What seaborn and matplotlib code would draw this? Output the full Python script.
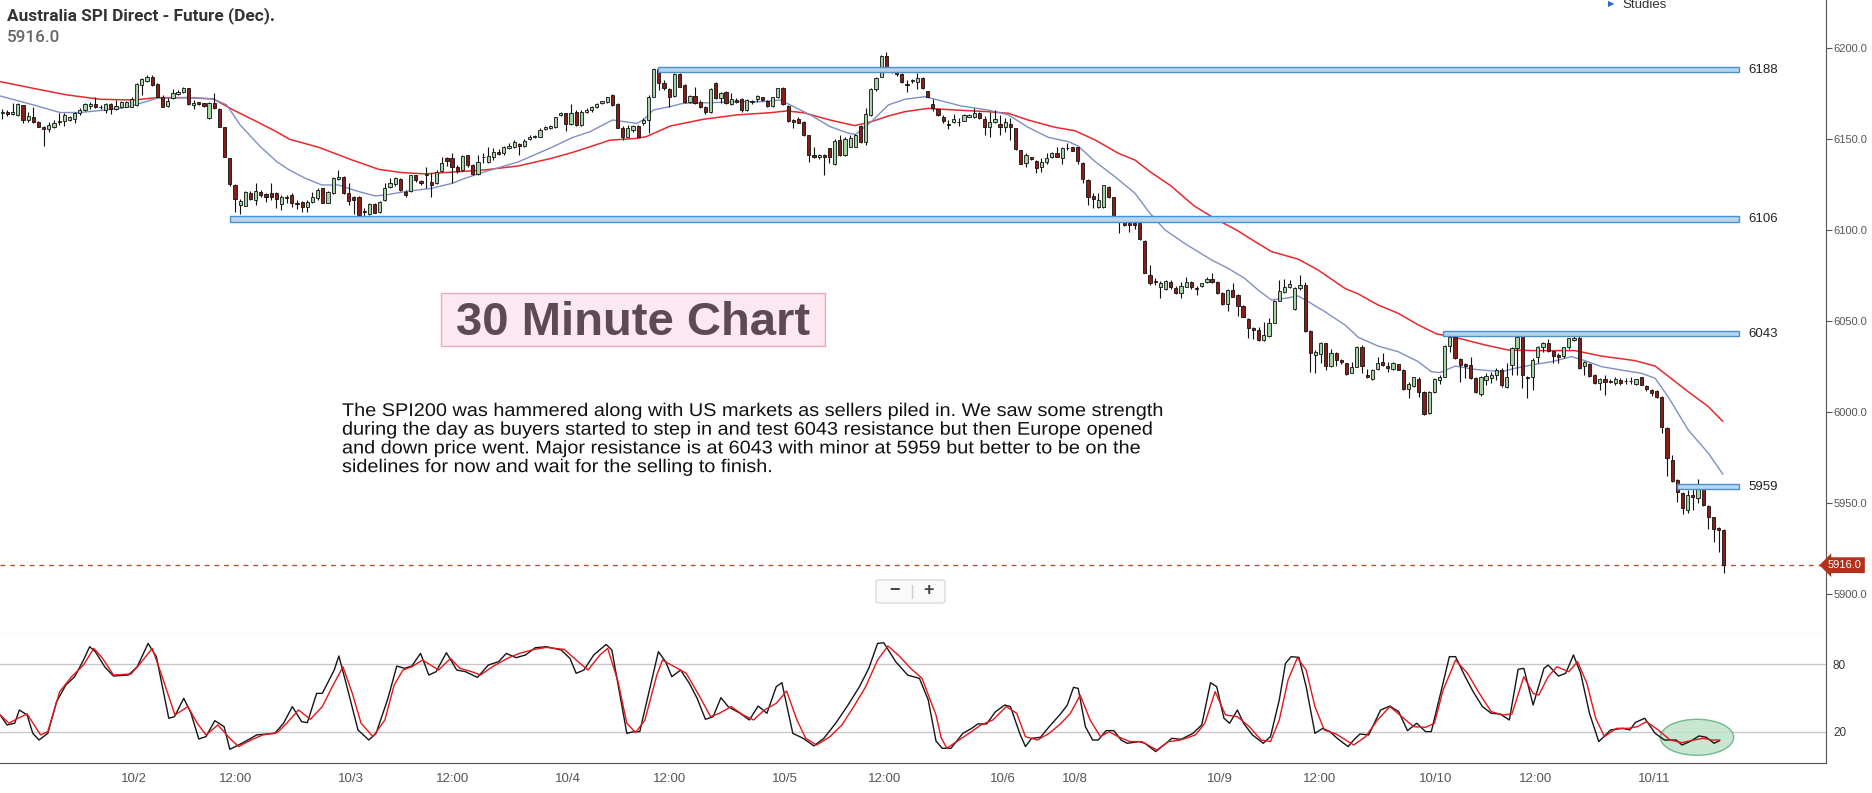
import numpy as np
import pandas as pd
import matplotlib
matplotlib.use('Agg')
import matplotlib.pyplot as plt
import matplotlib.patches as mpatches
import matplotlib.transforms as mtransforms
from matplotlib import font_manager
from matplotlib.textpath import TextPath
import seaborn as sns

# ---------------- data (30 min candles, index = candle slot) ----------------
opens = [
    6164.3, 6165.0, 6164.0, 6163.4, 6168.9, 6160.6, 6162.5, 6159.7, 6157.0, 6155.5,
    6157.0, 6159.4, 6160.1, 6160.6, 6161.0, 6164.7, 6166.1, 6168.5, 6169.3, 6167.8,
    6166.1, 6169.3, 6166.5, 6168.0, 6168.0, 6168.0, 6168.9, 6179.9, 6182.2, 6184.4,
    6180.4, 6173.5, 6168.3, 6172.5, 6174.7, 6176.2, 6178.0, 6168.9, 6170.3, 6169.8,
    6161.5, 6170.2, 6166.5, 6156.6, 6139.6, 6124.9, 6113.9, 6113.6, 6120.7, 6116.7,
    6121.3, 6119.8, 6120.7, 6120.7, 6114.5, 6118.5, 6119.4, 6114.8, 6115.4, 6113.0,
    6115.4, 6117.6, 6123.1, 6115.2, 6120.3, 6128.0, 6129.5, 6120.3, 6118.5, 6118.5,
    6110.5, 6109.0, 6114.5, 6109.9, 6116.7, 6123.6, 6125.3, 6128.2, 6121.3, 6121.6,
    6130.4, 6127.1, 6130.6, 6126.7, 6125.8, 6132.8, 6139.9, 6139.6, 6135.0, 6133.2,
    6141.2, 6135.9, 6130.8, 6140.3, 6137.7, 6140.5, 6143.2, 6142.3, 6145.1, 6145.6,
    6147.4, 6146.3, 6150.0, 6151.3, 6151.5, 6155.5, 6156.1, 6156.6, 6163.4, 6164.3,
    6158.4, 6165.2, 6157.9, 6165.2, 6166.1, 6168.0, 6169.8, 6170.7, 6174.4, 6169.4,
    6156.4, 6151.5, 6155.1, 6157.3, 6158.8, 6160.6, 6173.4, 6188.4, 6181.1, 6177.5,
    6173.8, 6185.9, 6179.8, 6170.7, 6173.8, 6170.7, 6168.0, 6165.2, 6181.1, 6172.5,
    6176.2, 6169.4, 6171.6, 6172.0, 6166.1, 6170.5, 6172.0, 6173.0, 6171.0, 6168.3,
    6173.1, 6178.0, 6168.3, 6160.6, 6161.0, 6159.7, 6152.4, 6141.4, 6140.1, 6141.4,
    6145.0, 6136.4, 6149.6, 6141.4, 6145.9, 6146.0, 6157.3, 6148.7, 6163.4, 6177.5,
    6184.4, 6195.8, 6189.3, 6187.7, 6185.7, 6180.0, 6181.9, 6181.7, 6183.5, 6176.5,
    6169.4, 6166.5, 6162.1, 6158.0, 6159.5, 6159.4, 6160.2, 6162.5, 6162.1, 6164.6,
    6161.0, 6156.6, 6159.7, 6158.4, 6156.6, 6158.4, 6156.0, 6144.1, 6137.2, 6140.1,
    6138.3, 6135.0, 6137.7, 6140.5, 6142.3, 6139.6, 6145.0, 6145.6, 6145.6, 6137.2,
    6127.6, 6118.9, 6113.0, 6113.0, 6124.0, 6118.1, 6105.8, 6105.7, 6104.2, 6104.2,
    6104.2, 6094.3, 6075.4, 6071.9, 6068.7, 6067.6, 6071.8, 6068.1, 6065.4, 6069.0,
    6071.8, 6068.5, 6069.4, 6071.4, 6073.0, 6071.8, 6065.7, 6059.5, 6067.2, 6064.4,
    6058.4, 6051.1, 6046.5, 6045.2, 6039.7, 6041.9, 6049.2, 6061.3, 6066.3, 6068.7,
    6056.6, 6068.1, 6069.9, 6044.8, 6031.5, 6032.0, 6037.9, 6025.4, 6032.8, 6028.7,
    6026.9, 6021.8, 6025.1, 6036.1, 6020.3, 6018.3, 6023.6, 6027.8, 6025.4, 6023.6,
    6026.4, 6023.2, 6012.6, 6014.4, 6018.1, 6011.3, 5999.4, 6011.3, 6018.0, 6019.6,
    6036.4, 6041.6, 6029.1, 6026.5, 6026.0, 6018.7, 6010.1, 6018.0, 6018.7, 6020.5,
    6023.2, 6013.7, 6026.0, 6035.1, 6041.9, 6019.6, 6019.2, 6030.2, 6036.1, 6038.3,
    6033.7, 6031.5, 6030.9, 6036.1, 6039.9, 6041.0, 6025.4, 6026.5, 6020.5, 6016.0,
    6018.1, 6017.4, 6016.2, 6017.8, 6017.0, 6017.2, 6015.6, 6019.2, 6014.4, 6012.3,
    6011.9, 6008.6, 5991.2, 5973.8, 5962.8, 5955.8, 5946.3, 5954.6, 5952.7, 5958.2,
    5948.5, 5942.3, 5936.3, 5935.4,
]
highs = [
    6166.5, 6166.0, 6170.0, 6170.0, 6169.0, 6165.2, 6168.0, 6160.1, 6157.2, 6159.7,
    6160.6, 6164.3, 6164.3, 6163.0, 6165.2, 6167.0, 6169.8, 6170.7, 6173.2, 6168.9,
    6169.8, 6169.8, 6171.6, 6171.0, 6171.0, 6173.5, 6180.8, 6183.5, 6185.4, 6185.4,
    6180.8, 6174.4, 6172.5, 6177.5, 6177.1, 6178.6, 6178.2, 6171.6, 6170.5, 6170.0,
    6170.7, 6175.3, 6167.0, 6157.0, 6139.9, 6125.5, 6117.0, 6121.8, 6121.6, 6126.0,
    6122.0, 6120.3, 6125.9, 6121.3, 6119.4, 6119.4, 6120.3, 6116.7, 6116.3, 6116.7,
    6121.3, 6123.1, 6123.3, 6121.6, 6129.5, 6133.0, 6129.7, 6125.8, 6118.7, 6118.7,
    6112.1, 6114.8, 6115.0, 6116.0, 6126.2, 6128.6, 6129.5, 6128.6, 6122.2, 6130.6,
    6130.6, 6127.5, 6135.0, 6131.3, 6133.2, 6140.5, 6140.5, 6142.3, 6135.9, 6141.4,
    6141.4, 6136.5, 6141.4, 6142.7, 6145.6, 6145.1, 6144.5, 6146.3, 6147.8, 6149.6,
    6147.8, 6150.0, 6152.2, 6152.2, 6156.1, 6157.5, 6158.0, 6162.5, 6165.2, 6164.5,
    6169.3, 6166.1, 6166.0, 6167.0, 6168.3, 6169.8, 6171.2, 6173.4, 6174.7, 6169.8,
    6157.3, 6157.9, 6157.9, 6157.9, 6161.5, 6174.4, 6189.0, 6189.0, 6182.6, 6178.0,
    6186.6, 6186.6, 6180.2, 6174.4, 6178.9, 6171.6, 6168.5, 6178.0, 6181.7, 6176.2,
    6176.4, 6175.6, 6172.5, 6172.5, 6172.0, 6171.6, 6174.4, 6173.5, 6171.6, 6173.4,
    6178.4, 6178.9, 6168.9, 6161.0, 6162.0, 6160.1, 6152.6, 6146.0, 6142.0, 6141.7,
    6145.4, 6150.0, 6152.2, 6151.5, 6152.4, 6153.0, 6158.0, 6167.0, 6178.0, 6184.0,
    6196.3, 6198.2, 6189.5, 6188.0, 6186.2, 6182.8, 6183.0, 6186.6, 6184.0, 6176.8,
    6172.0, 6166.8, 6163.4, 6160.6, 6163.9, 6161.5, 6164.0, 6163.9, 6167.0, 6165.0,
    6162.8, 6165.2, 6166.1, 6163.4, 6161.5, 6161.5, 6156.2, 6144.3, 6142.7, 6140.5,
    6138.7, 6139.6, 6142.3, 6142.8, 6145.9, 6145.9, 6147.8, 6146.0, 6145.9, 6137.7,
    6128.0, 6120.3, 6120.3, 6125.1, 6124.4, 6118.5, 6106.6, 6106.0, 6104.8, 6104.8,
    6104.8, 6094.7, 6080.9, 6073.6, 6072.3, 6072.7, 6072.7, 6069.4, 6071.8, 6074.5,
    6072.3, 6069.4, 6071.2, 6074.5, 6076.4, 6072.0, 6066.3, 6067.6, 6071.3, 6065.0,
    6059.0, 6051.6, 6047.0, 6047.0, 6049.8, 6051.6, 6061.7, 6072.7, 6073.0, 6072.7,
    6069.0, 6075.4, 6071.8, 6045.2, 6034.0, 6038.8, 6038.3, 6034.6, 6033.3, 6029.5,
    6027.2, 6027.8, 6036.4, 6037.0, 6023.6, 6023.6, 6030.6, 6032.4, 6027.8, 6027.8,
    6026.8, 6023.6, 6016.8, 6019.6, 6019.6, 6011.6, 6011.9, 6018.7, 6020.5, 6037.0,
    6041.6, 6044.3, 6029.7, 6027.3, 6030.2, 6019.2, 6019.9, 6021.8, 6022.3, 6024.2,
    6024.2, 6026.9, 6036.1, 6041.9, 6042.5, 6020.0, 6029.7, 6036.4, 6038.8, 6040.1,
    6033.9, 6032.4, 6036.1, 6041.0, 6042.5, 6043.0, 6028.4, 6026.9, 6021.0, 6018.7,
    6020.5, 6018.5, 6019.2, 6018.7, 6018.7, 6019.2, 6018.5, 6019.6, 6015.0, 6012.6,
    6012.3, 6009.0, 5991.7, 5976.5, 5963.2, 5956.4, 5957.3, 5957.7, 5963.2, 5958.6,
    5949.1, 5942.7, 5936.9, 5935.7,
]
lows = [
    6161.4, 6163.0, 6163.4, 6163.0, 6158.8, 6159.7, 6158.8, 6156.8, 6146.3, 6154.2,
    6156.0, 6158.0, 6157.3, 6160.0, 6159.2, 6163.4, 6165.8, 6166.5, 6167.0, 6166.5,
    6164.3, 6164.0, 6166.1, 6167.0, 6167.5, 6168.0, 6168.3, 6174.4, 6181.7, 6179.3,
    6173.0, 6167.8, 6168.0, 6172.0, 6174.4, 6175.3, 6169.0, 6166.5, 6169.0, 6168.0,
    6161.0, 6166.5, 6156.8, 6140.1, 6124.4, 6110.3, 6109.0, 6113.4, 6116.7, 6114.0,
    6118.5, 6115.8, 6116.7, 6112.1, 6111.2, 6115.0, 6113.0, 6111.5, 6110.3, 6110.3,
    6114.8, 6116.7, 6114.8, 6114.8, 6120.0, 6127.7, 6120.0, 6114.0, 6109.0, 6107.9,
    6106.6, 6108.4, 6109.5, 6109.7, 6116.3, 6123.5, 6124.4, 6121.8, 6118.5, 6121.3,
    6126.7, 6125.0, 6123.1, 6118.5, 6125.5, 6132.2, 6135.4, 6126.2, 6131.3, 6132.6,
    6135.0, 6130.4, 6130.4, 6136.8, 6137.2, 6138.7, 6141.4, 6141.4, 6144.5, 6145.1,
    6141.4, 6146.0, 6149.6, 6150.9, 6151.3, 6155.0, 6155.8, 6156.1, 6162.8, 6154.8,
    6157.9, 6157.3, 6157.5, 6164.3, 6165.2, 6167.0, 6169.4, 6170.1, 6168.3, 6156.2,
    6149.6, 6151.1, 6154.2, 6151.1, 6157.9, 6153.6, 6173.1, 6177.1, 6177.1, 6168.0,
    6173.4, 6178.6, 6170.1, 6170.1, 6169.2, 6167.0, 6163.9, 6164.6, 6172.0, 6169.8,
    6169.4, 6168.9, 6170.0, 6165.2, 6165.5, 6169.5, 6170.7, 6171.0, 6167.9, 6168.0,
    6172.5, 6168.9, 6159.7, 6156.0, 6158.8, 6151.8, 6137.7, 6139.6, 6139.0, 6130.4,
    6137.2, 6135.9, 6140.8, 6140.8, 6145.6, 6145.5, 6147.8, 6146.9, 6163.0, 6176.5,
    6184.0, 6188.4, 6186.5, 6185.0, 6180.7, 6176.2, 6181.0, 6177.5, 6177.5, 6173.2,
    6165.7, 6163.0, 6158.8, 6155.5, 6158.8, 6157.3, 6160.0, 6162.0, 6161.5, 6161.0,
    6152.4, 6151.5, 6158.8, 6152.4, 6154.2, 6149.6, 6144.3, 6136.2, 6135.0, 6138.5,
    6131.3, 6132.2, 6136.4, 6140.0, 6140.1, 6136.4, 6144.1, 6143.3, 6136.4, 6125.8,
    6113.9, 6112.1, 6112.1, 6112.1, 6117.7, 6106.4, 6098.7, 6102.3, 6099.2, 6100.5,
    6094.7, 6076.4, 6069.9, 6069.9, 6062.6, 6067.0, 6067.6, 6065.0, 6062.6, 6068.7,
    6067.6, 6064.4, 6069.0, 6071.2, 6071.0, 6065.0, 6059.0, 6055.8, 6063.2, 6052.9,
    6052.2, 6040.6, 6040.1, 6039.4, 6039.4, 6041.6, 6048.9, 6061.1, 6065.4, 6068.1,
    6056.2, 6067.2, 6044.3, 6022.3, 6021.8, 6026.9, 6023.2, 6025.0, 6025.4, 6026.5,
    6020.5, 6021.6, 6024.8, 6021.4, 6018.7, 6018.0, 6023.2, 6025.4, 6022.3, 6023.2,
    6023.0, 6012.2, 6007.7, 6014.1, 6008.6, 5998.5, 5999.1, 6010.8, 6015.6, 6019.2,
    6033.3, 6029.1, 6016.8, 6018.7, 6018.1, 6010.4, 6009.0, 6015.0, 6016.3, 6017.8,
    6013.7, 6013.2, 6020.5, 6020.5, 6013.2, 6007.7, 6012.3, 6027.3, 6033.3, 6033.3,
    6027.3, 6027.3, 6029.7, 6035.0, 6039.4, 6023.6, 6020.5, 6019.2, 6015.6, 6012.3,
    6009.5, 6016.0, 6015.0, 6015.0, 6015.6, 6015.6, 6015.2, 6014.8, 6011.9, 6009.0,
    6007.7, 5988.4, 5965.0, 5961.9, 5950.9, 5944.1, 5944.5, 5946.3, 5950.0, 5948.5,
    5935.7, 5928.9, 5923.4, 5911.5,
]
closes = [
    6165.2, 6164.0, 6165.0, 6169.3, 6160.6, 6162.8, 6159.7, 6157.0, 6155.5, 6157.9,
    6159.2, 6160.1, 6163.4, 6162.1, 6164.7, 6166.1, 6169.3, 6169.5, 6167.6, 6167.6,
    6169.3, 6166.5, 6168.3, 6170.5, 6170.5, 6172.0, 6180.2, 6183.0, 6184.4, 6179.9,
    6173.5, 6168.0, 6171.3, 6175.3, 6176.2, 6178.0, 6169.3, 6169.8, 6169.3, 6168.3,
    6169.8, 6167.0, 6157.0, 6140.5, 6125.5, 6117.0, 6116.3, 6120.9, 6117.0, 6121.6,
    6119.4, 6118.5, 6118.1, 6117.0, 6118.1, 6117.5, 6115.2, 6114.5, 6113.0, 6115.8,
    6118.5, 6122.2, 6115.2, 6121.3, 6128.6, 6129.5, 6120.3, 6116.3, 6116.7, 6108.4,
    6110.3, 6114.5, 6109.7, 6115.8, 6123.1, 6126.2, 6128.6, 6122.2, 6119.4, 6130.4,
    6127.7, 6125.8, 6130.8, 6124.9, 6132.2, 6137.2, 6138.1, 6135.0, 6132.6, 6140.9,
    6135.9, 6131.0, 6137.7, 6140.1, 6140.9, 6143.2, 6142.0, 6146.0, 6146.3, 6148.7,
    6146.3, 6149.3, 6151.1, 6151.7, 6155.1, 6157.0, 6157.5, 6162.1, 6164.3, 6158.4,
    6164.7, 6157.9, 6165.2, 6166.1, 6168.0, 6169.2, 6171.0, 6173.1, 6168.9, 6156.4,
    6151.5, 6156.0, 6157.3, 6151.5, 6160.6, 6173.4, 6188.4, 6180.7, 6178.0, 6173.4,
    6185.9, 6178.9, 6170.7, 6173.8, 6169.8, 6168.0, 6165.2, 6177.5, 6172.5, 6175.6,
    6169.8, 6172.0, 6170.7, 6166.1, 6171.6, 6171.0, 6173.8, 6171.5, 6168.3, 6173.1,
    6178.0, 6169.4, 6160.2, 6159.5, 6159.2, 6152.4, 6141.4, 6140.1, 6141.4, 6140.1,
    6140.1, 6149.3, 6141.4, 6150.2, 6150.9, 6152.5, 6148.7, 6163.9, 6177.5, 6183.5,
    6195.8, 6189.0, 6187.7, 6185.7, 6181.7, 6179.8, 6182.6, 6183.5, 6178.0, 6173.4,
    6167.0, 6163.4, 6160.2, 6157.8, 6161.0, 6159.3, 6163.4, 6163.4, 6164.6, 6161.5,
    6156.6, 6159.7, 6161.0, 6156.6, 6159.7, 6157.0, 6144.5, 6136.4, 6141.4, 6139.0,
    6134.4, 6137.7, 6139.6, 6142.3, 6140.5, 6145.4, 6145.2, 6143.7, 6138.3, 6128.0,
    6118.5, 6117.0, 6116.7, 6124.9, 6118.1, 6106.6, 6104.9, 6102.7, 6103.0, 6102.7,
    6095.0, 6076.7, 6070.9, 6071.7, 6070.9, 6072.3, 6068.7, 6065.4, 6069.4, 6071.8,
    6068.7, 6067.6, 6070.9, 6073.2, 6071.8, 6065.4, 6059.5, 6067.2, 6063.5, 6058.4,
    6052.5, 6046.5, 6045.2, 6039.7, 6042.5, 6049.2, 6061.3, 6066.8, 6069.0, 6070.5,
    6068.1, 6069.9, 6044.8, 6032.8, 6033.0, 6037.9, 6025.4, 6032.8, 6028.7, 6027.5,
    6020.9, 6025.1, 6036.1, 6025.4, 6019.2, 6023.2, 6027.3, 6026.0, 6024.5, 6027.3,
    6023.2, 6012.6, 6015.5, 6019.2, 6011.3, 5999.1, 6011.3, 6018.1, 6019.6, 6036.4,
    6041.2, 6029.7, 6026.0, 6025.4, 6018.7, 6011.3, 6019.2, 6019.9, 6020.5, 6023.2,
    6015.0, 6019.2, 6035.1, 6041.6, 6020.5, 6018.7, 6028.7, 6036.1, 6038.3, 6033.9,
    6030.9, 6030.2, 6035.7, 6040.6, 6040.8, 6024.2, 6027.6, 6019.9, 6016.3, 6018.1,
    6016.8, 6016.8, 6018.1, 6016.3, 6017.1, 6017.0, 6018.1, 6015.0, 6012.6, 6010.4,
    6008.6, 5992.1, 5974.7, 5962.4, 5956.4, 5947.2, 5954.6, 5953.3, 5958.2, 5949.1,
    5942.7, 5935.7, 5935.4, 5916.0,
]

# moving averages (read at sample points)
ma_fast_x = [-0.4, 6.0, 11.2, 15.0, 18.9, 24.1, 26.7, 29.9, 35.7, 40.8, 43.4, 46.0, 49.9, 53.1, 55.6,
             58.6, 61.8, 65.0, 68.9, 72.1, 74.1, 78.0, 83.1, 87.0, 89.5, 93.4, 99.9, 106.3, 110.3,
             113.7, 118.0, 122.7, 124.0, 125.9, 129.2, 131.7, 136.9, 142.1, 147.2, 150.4, 152.4,
             156.3, 160.1, 163.4, 165.0, 168.1, 171.4, 174.6, 178.4, 181.0, 185.5, 190.7, 194.6,
             198.4, 202.3, 206.2, 208.1, 211.4, 215.2, 219.1, 222.0, 224.9, 228.7, 233.9, 237.1,
             240.3, 242.9, 245.5, 248.1, 250.7, 252.6, 255.8, 259.7, 262.3, 266.1, 270.0, 273.9,
             276.4, 278.1, 281.0, 284.8, 290.0, 292.6, 295.8, 299.7, 303.5, 306.1, 309.3, 313.2,
             317.1, 319.7, 322.2, 326.1, 330.0, 332.8]
ma_fast = [6173.8, 6168.9, 6164.7, 6164.7, 6165.8, 6167.6, 6169.8, 6172.5, 6172.9, 6172.2, 6168.9,
           6157.9, 6146.0, 6137.7, 6133.0, 6128.6, 6124.9, 6124.9, 6121.3, 6118.9, 6119.4, 6121.3,
           6123.1, 6125.8, 6128.6, 6132.2, 6137.7, 6145.6, 6151.0, 6154.2, 6160.6, 6158.8, 6160.6,
           6166.1, 6168.0, 6169.8, 6170.1, 6170.7, 6170.7, 6171.6, 6168.9, 6163.4, 6157.0, 6153.6,
           6152.6, 6159.7, 6168.9, 6172.0, 6173.4, 6171.6, 6168.3, 6166.1, 6163.4, 6156.6, 6151.1,
           6148.7, 6146.3, 6137.7, 6129.5, 6120.3, 6109.3, 6100.2, 6092.8, 6083.7, 6079.1, 6073.6,
           6067.2, 6061.7, 6062.6, 6063.9, 6060.8, 6055.3, 6048.0, 6041.2, 6036.4, 6033.3, 6027.8,
           6022.3, 6021.8, 6025.4, 6023.6, 6022.3, 6024.2, 6026.0, 6027.8, 6030.6, 6028.4, 6025.1,
           6023.2, 6021.4, 6018.7, 6008.6, 5990.3, 5977.5, 5966.0]
ma_slow_x = [-0.4, 6.0, 12.5, 18.9, 25.4, 29.9, 35.7, 40.8, 44.7, 48.6, 52.4, 55.6, 61.2, 67.6, 72.8,
             77.3, 81.8, 88.2, 93.4, 99.9, 106.3, 110.3, 113.7, 117.5, 122.7, 124.6, 129.2, 135.6,
             142.1, 148.5, 151.7, 155.0, 160.1, 164.9, 168.1, 171.4, 174.6, 179.1, 184.3, 190.7,
             194.6, 198.4, 203.6, 207.5, 211.4, 215.9, 219.1, 222.0, 226.0, 230.5, 234.5, 238.7,
             242.3, 245.5, 250.7, 254.5, 259.7, 262.3, 266.1, 270.0, 273.9, 277.5, 281.0, 286.8,
             291.3, 296.4, 304.2, 309.3, 315.8, 319.7, 322.2, 326.1, 330.0, 332.8]
ma_slow = [6181.7, 6178.0, 6174.4, 6172.0, 6171.6, 6172.9, 6172.9, 6172.2, 6166.1, 6160.6, 6155.1,
           6150.0, 6145.6, 6138.7, 6133.5, 6131.7, 6131.0, 6132.2, 6133.2, 6135.4, 6139.6, 6142.8,
           6145.9, 6149.5, 6150.5, 6151.5, 6157.3, 6161.0, 6163.4, 6164.6, 6165.6, 6164.6, 6160.6,
           6157.5, 6159.7, 6162.8, 6165.2, 6167.0, 6166.1, 6165.2, 6164.3, 6160.6, 6156.6, 6154.7,
           6149.6, 6142.3, 6138.6, 6132.2, 6124.5, 6113.5, 6106.5, 6100.2, 6093.8, 6088.3, 6084.1,
           6078.2, 6068.1, 6065.0, 6059.0, 6054.4, 6048.0, 6043.0, 6041.2, 6037.0, 6034.2, 6033.9,
           6033.9, 6030.9, 6028.4, 6025.4, 6019.9, 6011.3, 6003.1, 5995.0]

# stochastic oscillator: %K (black) and %D (red)
stoch_k_x = [
    -0.4, 0.9, 2.4, 3.3, 4.8, 5.9, 7.1, 8.8, 10.5, 12.3,
    14.0, 15.7, 16.9, 18.0, 19.8, 21.5, 24.4, 26.1, 28.2, 29.8,
    32.2, 33.3, 35.1, 36.5, 38.0, 39.4, 41.1, 42.9, 44.0, 45.7,
    47.5, 49.2, 52.7, 54.4, 56.1, 57.9, 59.0, 60.8, 61.9, 64.2,
    65.1, 66.5, 68.8, 70.9, 72.3, 74.6, 76.3, 77.8, 79.2, 80.9,
    82.5, 83.9, 85.9, 87.9, 89.6, 91.9, 94.0, 96.0, 97.5, 99.4,
    101.2, 103.1, 105.2, 108.1, 109.8, 111.0, 112.5, 114.4, 116.8, 117.9,
    120.8, 122.2, 123.3, 125.4, 126.9, 128.3, 129.5, 131.2, 132.9, 134.4,
    136.0, 137.5, 139.0, 140.4, 142.7, 144.5, 146.2, 147.9, 149.7, 150.8,
    152.9, 154.9, 157.0, 158.9, 161.2, 163.5, 165.8, 167.6, 169.3, 170.5,
    172.8, 175.1, 177.4, 179.1, 180.6, 181.8, 183.5, 185.8, 187.5, 188.7,
    190.4, 192.1, 193.9, 195.0, 196.8, 197.9, 199.1, 200.8, 202.5, 204.8,
    206.0, 207.2, 208.1, 209.5, 210.9, 212.0, 213.5, 215.0, 216.4, 217.6,
    219.9, 221.0, 223.1, 225.1, 226.2, 228.0, 230.3, 232.0, 233.7, 234.9,
    236.3, 237.4, 238.9, 240.1, 241.8, 243.9, 245.3, 247.0, 248.2, 249.3,
    250.8, 252.2, 253.9, 255.4, 256.8, 258.2, 260.3, 261.4, 262.6, 264.3,
    266.6, 268.4, 270.1, 271.8, 273.6, 275.3, 276.4, 278.2, 279.9, 281.1,
    282.8, 284.5, 286.3, 288.0, 289.7, 291.5, 293.2, 294.3, 296.1, 298.2,
    299.0, 301.0, 302.4, 303.9, 305.3, 307.0, 308.8, 311.1, 313.4, 314.8,
    315.9, 317.7, 319.7, 321.5, 323.8, 324.9, 326.4, 328.2, 329.6, 331.1,
    332.2,
]
stoch_k = [
    35.0, 26.2, 27.7, 39.4, 35.0, 18.8, 12.9, 18.8, 46.8, 61.5,
    68.8, 83.5, 95.3, 90.9, 77.6, 69.4, 70.3, 77.6, 98.2, 86.5,
    32.1, 33.5, 49.7, 36.5, 13.8, 15.9, 30.0, 24.7, 4.7, 8.5,
    12.9, 17.4, 18.8, 27.7, 42.4, 29.1, 28.2, 54.1, 54.1, 74.7,
    87.1, 62.9, 21.8, 12.9, 18.8, 49.7, 78.2, 76.2, 78.2, 89.4,
    70.3, 73.2, 90.0, 74.7, 73.2, 68.2, 79.1, 82.1, 89.4, 85.6,
    88.0, 94.4, 95.3, 92.4, 85.0, 71.8, 74.7, 88.0, 97.3, 92.4,
    18.8, 20.3, 20.3, 61.5, 90.9, 82.1, 68.8, 74.7, 62.9, 49.7,
    31.2, 33.5, 50.3, 42.4, 36.5, 30.6, 42.9, 36.5, 60.0, 63.5,
    18.8, 14.4, 7.7, 14.4, 27.7, 43.2, 60.0, 76.2, 98.2, 98.8,
    82.1, 70.3, 67.3, 48.3, 12.0, 5.6, 5.6, 18.8, 23.2, 27.1,
    27.1, 37.9, 43.8, 42.4, 18.8, 7.1, 14.4, 15.3, 24.7, 36.5,
    43.8, 59.4, 58.5, 24.7, 12.9, 12.9, 21.2, 21.2, 12.9, 10.0,
    11.5, 10.0, 2.7, 10.0, 14.4, 13.5, 18.8, 26.2, 63.5, 60.0,
    32.1, 27.7, 39.4, 27.7, 17.4, 10.0, 15.9, 48.3, 80.6, 86.5,
    85.9, 60.0, 18.8, 23.2, 20.3, 14.4, 7.1, 12.9, 18.2, 17.4,
    39.4, 42.9, 37.9, 21.2, 27.7, 20.3, 20.3, 54.1, 86.5, 86.5,
    70.3, 55.6, 42.4, 36.5, 35.9, 30.6, 75.3, 76.2, 43.8, 76.2,
    79.1, 69.4, 71.8, 88.0, 71.8, 36.5, 11.5, 21.8, 23.2, 21.8,
    28.5, 32.1, 18.8, 12.9, 12.9, 8.5, 11.5, 16.5, 15.3, 10.0,
    12.4,
]
stoch_d_x = [
    -0.4, 1.3, 3.0, 4.8, 7.4, 8.8, 11.1, 13.4, 15.7, 17.7,
    19.4, 21.5, 24.9, 26.7, 29.0, 30.7, 33.4, 35.9, 37.7, 39.4,
    41.7, 44.0, 45.7, 48.1, 50.4, 53.2, 55.0, 57.3, 59.6, 61.9,
    64.0, 65.9, 67.7, 69.4, 71.7, 74.0, 75.8, 77.5, 79.2, 81.3,
    84.4, 86.7, 88.5, 90.8, 92.5, 94.8, 97.7, 100.0, 102.9, 105.2,
    108.7, 111.0, 113.3, 115.6, 117.1, 119.1, 120.8, 122.5, 124.3, 126.6,
    127.7, 130.0, 132.3, 134.9, 137.0, 138.7, 141.0, 143.3, 145.3, 147.4,
    149.7, 151.7, 153.7, 155.4, 157.5, 160.1, 162.4, 164.7, 167.0, 169.3,
    171.3, 173.3, 175.7, 177.9, 180.6, 181.6, 182.7, 184.6, 187.0, 189.3,
    191.6, 194.2, 196.2, 197.9, 200.2, 202.5, 204.8, 206.6, 208.5, 210.4,
    212.4, 214.1, 215.8, 218.1, 220.4, 223.3, 225.6, 227.9, 230.8, 232.6,
    234.6, 236.6, 238.9, 241.2, 243.5, 245.3, 247.0, 248.7, 250.5, 252.2,
    253.9, 255.7, 258.0, 261.4, 263.7, 266.0, 268.4, 270.7, 273.0, 275.3,
    277.0, 278.7, 281.1, 283.4, 285.7, 288.0, 290.3, 292.0, 294.3, 296.1,
    297.2, 299.0, 300.7, 303.0, 304.7, 306.5, 308.2, 309.9, 312.2, 314.5,
    316.3, 318.0, 320.3, 322.6, 324.9, 327.2, 329.0, 330.7, 332.2,
]
stoch_d = [
    35.0, 27.7, 32.1, 35.9, 17.4, 20.3, 55.6, 68.8, 79.1, 93.8,
    85.0, 70.3, 71.2, 80.6, 93.8, 71.8, 35.0, 42.4, 27.7, 17.4,
    26.2, 14.4, 7.1, 12.9, 17.4, 19.4, 27.7, 39.4, 31.2, 42.4,
    61.5, 77.6, 54.1, 27.7, 15.9, 30.6, 61.5, 74.7, 77.6, 83.5,
    74.7, 85.0, 76.2, 73.2, 70.3, 77.6, 85.0, 89.4, 92.9, 94.7,
    92.9, 83.5, 74.7, 88.0, 93.8, 64.4, 27.7, 19.4, 30.6, 70.3,
    83.5, 77.6, 71.8, 51.2, 33.5, 36.5, 42.4, 35.0, 30.6, 39.4,
    45.3, 56.2, 30.6, 14.4, 8.5, 15.9, 26.2, 42.4, 60.0, 83.5,
    95.9, 88.0, 76.2, 67.3, 35.0, 15.0, 5.6, 11.5, 18.8, 26.2,
    30.6, 42.4, 36.5, 15.9, 12.9, 18.8, 27.7, 36.5, 52.6, 30.6,
    15.9, 20.3, 15.9, 11.5, 11.5, 4.1, 11.5, 12.9, 17.4, 27.7,
    55.6, 35.0, 33.5, 24.7, 12.9, 11.5, 30.6, 65.9, 85.6, 74.7,
    42.4, 21.8, 18.2, 8.5, 15.9, 30.6, 42.4, 33.5, 24.7, 24.1,
    27.7, 57.1, 83.5, 71.8, 54.1, 37.9, 35.0, 35.9, 68.8, 54.1,
    52.6, 68.8, 77.6, 73.2, 82.1, 62.9, 32.1, 15.9, 23.2, 23.2,
    24.7, 29.1, 21.8, 12.9, 10.6, 12.9, 14.4, 12.9, 12.9,
]

levels = [6188, 6106, 6043, 5959]
level_start = [126.8, 44.0, 278.7, 323.9]
level_end = 336.0
last_price = 5916.0

tick_pos = [25.5, 45.2, 67.4, 87.0, 109.4, 129.0, 151.4, 170.7, 193.6, 207.5, 235.6, 254.7, 277.3, 296.6, 319.5]
tick_labels = ['10/2', '12:00', '10/3', '12:00', '10/4', '12:00', '10/5', '12:00',
               '10/6', '10/8', '10/9', '12:00', '10/10', '12:00', '10/11']
price_ticks = [5900, 5950, 6000, 6050, 6100, 6150, 6200]
stoch_ticks = [20, 80]

title = 'Australia SPI Direct - Future (Dec).'
chart_label = '30 Minute Chart'
note_lines = [
    'The SPI200 was hammered along with US markets as sellers piled in. We saw some strength',
    'during the day as buyers started to step in and test 6043 resistance but then Europe opened',
    'and down price went. Major resistance is at 6043 with minor at 5959 but better to be on the',
    'sidelines for now and wait for the selling to finish.',
]

# ---------------- style ----------------
sns.set_style('white')
avail = {f.name for f in font_manager.fontManager.ttflist}
sans = 'Liberation Sans' if 'Liberation Sans' in avail else 'DejaVu Sans'
rob = 'Roboto' if 'Roboto' in avail else sans
if 'Liberation Sans Narrow' in avail:
    narrow, narrow_fs = 'Liberation Sans Narrow', 11
else:
    narrow, narrow_fs = sans, 9.5
plt.rcParams['font.family'] = [sans, 'DejaVu Sans']

W, H = 1872, 793
fig = plt.figure(figsize=(W / 100, H / 100), dpi=100, facecolor='white')
ax = fig.add_axes([0, 1 - 633 / H, 1826 / W, 633 / H])
ax2 = fig.add_axes([0, 1 - 763 / H, 1826 / W, 130 / H])
px_to_fig = mtransforms.Affine2D().scale(1 / W, 1 / H) + fig.transFigure

def ftext(px, py, s, **kw):
    return fig.text(px / W, 1 - py / H, s, **kw)

def wide_text(px, py, s, size_px, sx, color):
    # text drawn as a path so it can be a little wider than the font (as in the screenshot)
    tp = TextPath((0, 0), s, size=size_px, prop=font_manager.FontProperties(family=sans))
    tr = mtransforms.Affine2D().scale(sx, 1).translate(px, H - py) + px_to_fig
    fig.add_artist(mpatches.PathPatch(tp, transform=tr, facecolor=color, edgecolor='none', lw=0))

# ---------------- price panel ----------------
df = pd.DataFrame({'o': opens, 'h': highs, 'l': lows, 'c': closes})
df['i'] = np.arange(len(df))
up = df['c'] >= df['o']
body_lo = np.minimum(df['o'], df['c'])
body_h = np.maximum((df['c'] - df['o']).abs(), 0.35)

ax.axhline(last_price, color='#b0553a', lw=1, ls=(0, (3.5, 3.5)), zorder=1)
sns.lineplot(x=ma_slow_x, y=ma_slow, ax=ax, color='#e8282c', linewidth=1.1,
             estimator=None, sort=False, zorder=2)
sns.lineplot(x=ma_fast_x, y=ma_fast, ax=ax, color='#7f8fc3', linewidth=1.0,
             estimator=None, sort=False, zorder=2)
ax.vlines(df['i'], df['l'], df['h'], color='#111111', lw=0.8, zorder=3)
ax.bar(df['i'], body_h, bottom=body_lo, width=0.62,
       color=np.where(up, '#a5d3a3', '#8b1d14'), edgecolor='#111111', linewidth=0.6, zorder=4)

for lv, xs in zip(levels, level_start):
    ax.add_patch(mpatches.Rectangle((xs, lv - 1.2), level_end - xs, 2.8, facecolor='#b9d5ee',
                                    edgecolor='#4a8fd0', lw=1, zorder=5))
    ax.text(337.7, lv, str(lv), va='center', ha='left', fontsize=narrow_fs,
            family=[narrow, 'DejaVu Sans'], color='#222222', zorder=6)

ax.set_xlim(-0.445, 352.75)
ax.set_ylim(5878.74, 6226.54)
ax.set_xticks([])
ax.yaxis.tick_right()
ax.set_yticks(price_ticks)
ax.set_yticklabels([f'{v:.1f}' for v in price_ticks])
ax.tick_params(axis='y', length=4, width=0.8, color='#555555', labelsize=8,
               labelcolor='#555555', pad=1.5)
ax.set_xlabel('')
ax.set_ylabel('')
for s in ['top', 'left']:
    ax.spines[s].set_visible(False)
ax.spines['bottom'].set_color('#c4c4c4')
ax.spines['right'].set_color('#555555')

# last price tag
blend = mtransforms.blended_transform_factory(fig.transFigure, ax.transData)
ax.text(1845 / W, last_price, f'{last_price:.1f}', transform=blend, ha='center', va='center',
        fontsize=8, color='white', zorder=7, clip_on=False,
        bbox=dict(boxstyle='larrow,pad=0.26', fc='#b5301b', ec='none'))

# ---------------- stochastic panel ----------------
ax2.add_patch(mpatches.Ellipse((327.8, 15.3), 14.2, 31.8, facecolor='#bfe3cb', alpha=0.85,
                               edgecolor='#5fae7e', lw=1, zorder=1))
for g in stoch_ticks:
    ax2.axhline(g, color='#c8c8c8', lw=1, zorder=0)
sns.lineplot(x=stoch_k_x, y=stoch_k, ax=ax2, color='#151515', linewidth=1.0,
             estimator=None, sort=False, zorder=3)
sns.lineplot(x=stoch_d_x, y=stoch_d, ax=ax2, color='#e3161c', linewidth=1.0,
             estimator=None, sort=False, zorder=4)
ax2.set_xlim(-0.445, 352.75)
ax2.set_ylim(-7.4, 107.4)
ax2.set_xticks(tick_pos)
ax2.set_xticklabels(tick_labels)
ax2.tick_params(axis='x', length=4, width=0.8, color='#555555', labelsize=9.5,
                labelcolor='#555555', pad=3)
ax2.yaxis.tick_right()
ax2.set_yticks(stoch_ticks)
ax2.tick_params(axis='y', length=0, labelsize=8.5, labelcolor='#333333', pad=5)
ax2.set_xlabel('')
ax2.set_ylabel('')
for s in ['top', 'left']:
    ax2.spines[s].set_visible(False)
ax2.spines['bottom'].set_color('#555555')
ax2.spines['right'].set_color('#555555')

# ---------------- header and annotations ----------------
ftext(7, 20, title, fontsize=12.4, fontweight='bold', color='#333333', family=[rob, 'DejaVu Sans'])
ftext(7, 41.5, f'{last_price:.1f}', fontsize=12.3, fontweight='medium', color='#666666',
      family=[rob, 'DejaVu Sans'])
ftext(1611, 4, '\u25b6', fontsize=6, color='#2566d6', ha='center', va='center',
      family=['DejaVu Sans'])
ftext(1622, 7.5, 'Studies', fontsize=9.5, color='#333333', va='baseline')

fig.add_artist(mpatches.Rectangle((441 / W, 1 - 346 / H), 384 / W, 53 / H, transform=fig.transFigure,
                                  facecolor='#fde7f0', edgecolor='#e8aac3', lw=1))
ftext(633, 335, chart_label, fontsize=34, fontweight='bold', color='#5c4a56', ha='center',
      va='baseline')
for k, line in enumerate(note_lines):
    wide_text(342, 416 + 18.7 * k, line, 18.4, 1.08, '#111111')

# zoom control
fig.add_artist(mpatches.FancyBboxPatch((876 / W, 1 - 603 / H), 69 / W, 23 / H,
                                       boxstyle='round,pad=0,rounding_size=0.002',
                                       transform=fig.transFigure, facecolor='#fafafa',
                                       edgecolor='#dcdcdc', lw=1))
fig.add_artist(plt.Line2D([912 / W, 912 / W], [1 - 585 / H, 1 - 598 / H], transform=fig.transFigure,
                          color='#cccccc', lw=1))
ftext(894, 591, '\u2212', fontsize=13, fontweight='bold', color='#444444', ha='center', va='center')
ftext(928, 591, '+', fontsize=13, fontweight='bold', color='#444444', ha='center', va='center')

fig.savefig('out.png', dpi=100, facecolor='white')
